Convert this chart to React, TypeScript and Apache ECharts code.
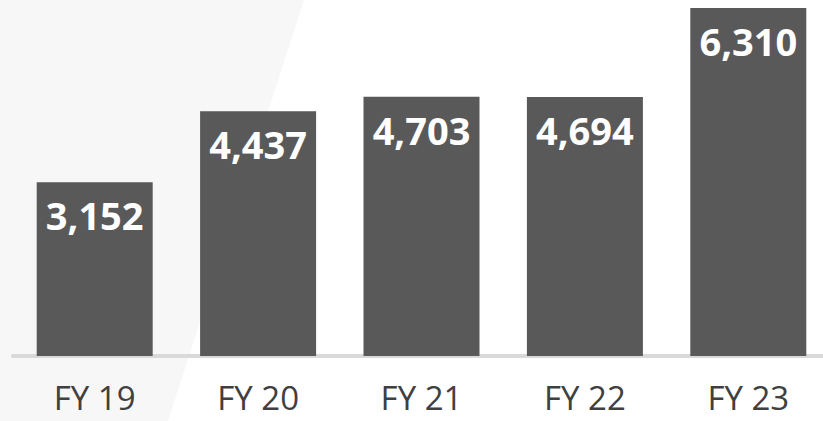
import React, { useEffect, useRef } from "react";
import * as echarts from "echarts";

const categories = ["FY 19", "FY 20", "FY 21", "FY 22", "FY 23"];
const values = [3152, 4437, 4703, 4694, 6310];

export default function App() {
  const ref = useRef<HTMLDivElement>(null);
  useEffect(() => {
    const chart = echarts.init(ref.current!, null, { renderer: "svg" });
    chart.setOption({
      animation: false,
      backgroundColor: "#ffffff",
      graphic: [
        {
          type: "polygon",
          z: -10,
          silent: true,
          shape: { points: [[0, 0], [304, 0], [168, 421], [0, 421]] },
          style: { fill: "#f7f7f7" },
        },
      ],
      grid: { left: 13, top: 8, width: 817, bottom: 65, containLabel: false },
      xAxis: {
        type: "category",
        data: categories,
        offset: 2,
        axisLine: { lineStyle: { color: "#d9d9d9", width: 4 } },
        axisTick: { show: false },
        axisLabel: {
          color: "#404040",
          fontFamily: "Open Sans",
          fontSize: 33,
          lineHeight: 33,
          margin: 23,
        },
      },
      yAxis: {
        type: "value",
        min: 0,
        max: 6310,
        show: false,
        splitLine: { show: false },
      },
      series: [
        {
          type: "bar",
          data: values,
          barWidth: 116,
          itemStyle: { color: "#595959" },
          label: {
            show: true,
            position: "insideTop",
            distance: 14,
            color: "#ffffff",
            fontFamily: "Open Sans",
            fontWeight: "bold",
            fontSize: 38,
            formatter: (p: any) => p.value.toLocaleString("en-US"),
          },
        },
      ],
    });
    return () => chart.dispose();
  }, []);
  return (
    <div style={{ width: 823, height: 421, position: "absolute", left: 0, top: 0, overflow: "hidden" }}>
      <div ref={ref} style={{ width: 832, height: 421 }} />
    </div>
  );
}
